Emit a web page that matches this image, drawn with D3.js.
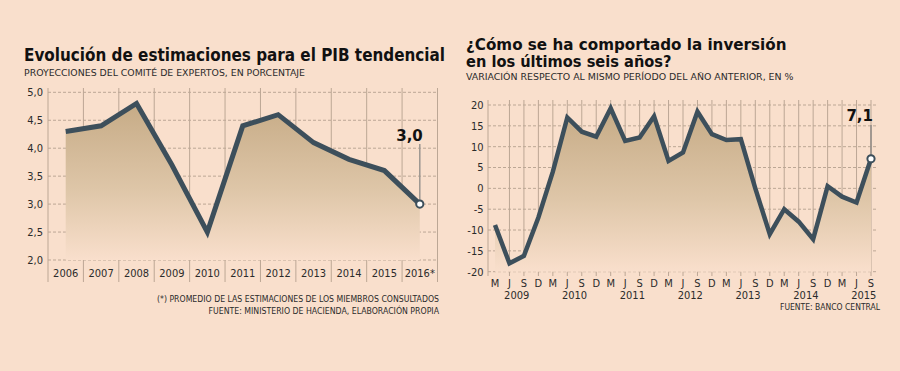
<!DOCTYPE html>
<html>
<head>
<meta charset="utf-8">
<script src="https://cdn.jsdelivr.net/npm/d3@7"></script>
<style>
  body { margin: 0; background: #f9dfcc; }
  svg { display: block; }
  text { font-family: "DejaVu Sans Condensed", "DejaVu Sans", sans-serif; fill: #2b2b2b; }
</style>
</head>
<body>
<script>
// left chart data
const pibYears = ['2006', '2007', '2008', '2009', '2010', '2011', '2012', '2013', '2014', '2015', '2016*'];
const pibValues = [4.3, 4.4, 4.8, 3.7, 2.5, 4.4, 4.6, 4.1, 3.8, 3.6, 3.0];
const pibTicks = [2, 2.5, 3, 3.5, 4, 4.5, 5];

// right chart data
const invMonths = ['M', 'J', 'S', 'D',
  'M', 'J', 'S', 'D', 'M', 'J', 'S', 'D', 'M', 'J', 'S', 'D',
  'M', 'J', 'S', 'D', 'M', 'J', 'S', 'D', 'M', 'J', 'S'];
const invYears = ['2009', '2010', '2011', '2012', '2013', '2014', '2015'];
const invValues = [-8.8, -18, -16.2, -7,
  4, 17, 13.6, 12.4,
  19.2, 11.4, 12.2, 17.3,
  6.6, 8.6, 18.4, 13,
  11.6, 11.8, 0, -11,
  -5, -8, -12.2, 0.5,
  -2, -3.4, 7.1];
const invTicks = [-20, -15, -10, -5, 0, 5, 10, 15, 20];

const width = 900;
const height = 371;
const bg = '#f9dfcc';
const lineColor = '#3d4f5b';
const gridColor = '#bca795';
const comma = d3.formatLocale({ decimal: ',', thousands: '.', grouping: [3], currency: ['', ''] });

const svg = d3.select('body').append('svg')
    .attr('width', width)
    .attr('height', height);

svg.append('rect')
    .attr('width', width)
    .attr('height', height)
    .attr('fill', bg);

const defs = svg.append('defs');
function makeGradient(id, y1, y2) {
  const g = defs.append('linearGradient')
      .attr('id', id)
      .attr('gradientUnits', 'userSpaceOnUse')
      .attr('x1', 0).attr('x2', 0)
      .attr('y1', y1).attr('y2', y2);
  g.append('stop').attr('offset', 0).attr('stop-color', '#c6ab86');
  g.append('stop').attr('offset', 0.55).attr('stop-color', '#dec6a8');
  g.append('stop').attr('offset', 1).attr('stop-color', bg);
}

// helper for squeezed text
function label(x, y, str, size, len, weight) {
  const t = svg.append('text')
      .attr('x', x)
      .attr('y', y)
      .style('font-size', size + 'px')
      .text(str);
  if (weight) t.style('font-weight', weight).style('font-family', '"DejaVu Sans", sans-serif').style('fill', '#111');
  if (len) t.attr('textLength', len).attr('lengthAdjust', 'spacingAndGlyphs');
  return t;
}

// ---------- left chart ----------
label(24, 60.5, 'Evolución de estimaciones para el PIB tendencial', 18.5, 421, 'bold');
label(24, 75.5, 'PROYECCIONES DEL COMITÉ DE EXPERTOS, EN PORCENTAJE', 9.5, 281);

const xL = d3.scaleBand()
    .domain(pibYears)
    .range([48, 437.5])
    .padding(0);

const yL = d3.scaleLinear()
    .domain([2, 5])
    .range([260, 92.3]);

makeGradient('gradL', yL(4.8), yL(2));

const gL = svg.append('g');

gL.selectAll('.hgrid')
  .data(pibTicks)
  .enter()
  .append('line')
    .attr('x1', 48)
    .attr('x2', 437.5)
    .attr('y1', d => yL(d))
    .attr('y2', d => yL(d))
    .attr('stroke', gridColor)
    .attr('stroke-dasharray', '3,2');

const edgesL = pibYears.map(d => xL(d)).concat([xL.range()[1]]);
gL.selectAll('.vgrid')
  .data(edgesL)
  .enter()
  .append('line')
    .attr('x1', d => d)
    .attr('x2', d => d)
    .attr('y1', 88)
    .attr('y2', 282)
    .attr('stroke', gridColor);

const cx = d => xL(d) + xL.bandwidth() / 2;

gL.append('path')
    .datum(pibValues)
    .attr('fill', 'url(#gradL)')
    .attr('d', d3.area()
      .x((d, i) => cx(pibYears[i]))
      .y0(yL(2))
      .y1(d => yL(d)));

gL.selectAll('.ylab')
  .data(pibTicks)
  .enter()
  .append('text')
    .attr('x', 43)
    .attr('y', d => yL(d))
    .attr('dy', '0.35em')
    .attr('text-anchor', 'end')
    .style('font-size', '11px')
    .text(d => comma.format('.1f')(d));

gL.selectAll('.xlab')
  .data(pibYears)
  .enter()
  .append('text')
    .attr('x', d => cx(d))
    .attr('y', 276.5)
    .attr('text-anchor', 'middle')
    .style('font-size', '11px')
    .text(d => d);

const lastL = pibValues.length - 1;
gL.append('line')
    .attr('x1', cx(pibYears[lastL]))
    .attr('x2', cx(pibYears[lastL]))
    .attr('y1', 144)
    .attr('y2', yL(pibValues[lastL]))
    .attr('stroke', '#9c9690')
    .attr('stroke-width', 1.5);

gL.append('path')
    .datum(pibValues)
    .attr('fill', 'none')
    .attr('stroke', lineColor)
    .attr('stroke-width', 5)
    .attr('stroke-linejoin', 'miter')
    .attr('d', d3.line()
      .x((d, i) => cx(pibYears[i]))
      .y(d => yL(d)));

gL.append('circle')
    .attr('cx', cx(pibYears[lastL]))
    .attr('cy', yL(pibValues[lastL]))
    .attr('r', 3.6)
    .attr('fill', '#fff')
    .attr('stroke', lineColor)
    .attr('stroke-width', 2);

gL.append('text')
    .attr('x', cx(pibYears[lastL]) + 3)
    .attr('y', 141)
    .attr('text-anchor', 'end')
    .style('font-family', '"DejaVu Sans", sans-serif')
    .style('font-weight', 'bold')
    .style('font-size', '15px')
    .style('fill', '#111')
    .text(comma.format('.1f')(pibValues[lastL]));

label(157, 302, '(*) PROMEDIO DE LAS ESTIMACIONES DE LOS MIEMBROS CONSULTADOS', 9.5, 282);
label(208.5, 313.5, 'FUENTE: MINISTERIO DE HACIENDA, ELABORACIÓN PROPIA', 9.5, 230.5);

// ---------- right chart ----------
label(466, 49.5, '¿Cómo se ha comportado la inversión', 16.5, 320.5, 'bold');
label(466, 66.5, 'en los últimos seis años?', 16.5, 205.5, 'bold');
label(466, 80, 'VARIACIÓN RESPECTO AL MISMO PERÍODO DEL AÑO ANTERIOR, EN %', 9.5, 327.5);

const idx = d3.range(invValues.length);
const xR = d3.scalePoint()
    .domain(idx)
    .range([495, 871]);

const yR = d3.scaleLinear()
    .domain([-20, 20])
    .range([271.7, 105]);

makeGradient('gradR', yR(19), yR(-20));

const gR = svg.append('g');

gR.selectAll('.hgrid')
  .data(invTicks)
  .enter()
  .append('line')
    .attr('x1', 488)
    .attr('x2', 878)
    .attr('y1', d => yR(d))
    .attr('y2', d => yR(d))
    .attr('stroke', gridColor)
    .attr('stroke-dasharray', '3,2');

gR.selectAll('.vgrid')
  .data([488].concat(idx.slice(1).map(i => xR(i))))
  .enter()
  .append('line')
    .attr('x1', d => d)
    .attr('x2', d => d)
    .attr('y1', 100)
    .attr('y2', 276)
    .attr('stroke', gridColor);

gR.append('path')
    .datum(invValues)
    .attr('fill', 'url(#gradR)')
    .attr('d', d3.area()
      .x((d, i) => xR(i))
      .y0(yR(-20))
      .y1(d => yR(d)));

gR.selectAll('.ylab')
  .data(invTicks)
  .enter()
  .append('text')
    .attr('x', 483.5)
    .attr('y', d => yR(d))
    .attr('dy', '0.35em')
    .attr('text-anchor', 'end')
    .style('font-size', '11px')
    .text(d => d);

gR.selectAll('.mlab')
  .data(invMonths)
  .enter()
  .append('text')
    .attr('x', (d, i) => xR(i))
    .attr('y', 286.5)
    .attr('text-anchor', 'middle')
    .style('font-size', '11px')
    .text(d => d);

// year label sits between the J and S of each year
gR.selectAll('.yrlab')
  .data(invYears)
  .enter()
  .append('text')
    .attr('x', (d, i) => {
      const j = i === 0 ? 1 : 4 * i + 1;
      return (xR(j) + xR(j + 1)) / 2;
    })
    .attr('y', 299)
    .attr('text-anchor', 'middle')
    .style('font-size', '11px')
    .text(d => d);

const lastR = invValues.length - 1;
gR.append('line')
    .attr('x1', xR(lastR))
    .attr('x2', xR(lastR))
    .attr('y1', 125)
    .attr('y2', yR(invValues[lastR]))
    .attr('stroke', '#8f8a86')
    .attr('stroke-width', 1.5);

gR.append('path')
    .datum(invValues)
    .attr('fill', 'none')
    .attr('stroke', lineColor)
    .attr('stroke-width', 4.5)
    .attr('stroke-linejoin', 'miter')
    .attr('d', d3.line()
      .x((d, i) => xR(i))
      .y(d => yR(d)));

gR.append('circle')
    .attr('cx', xR(lastR))
    .attr('cy', yR(invValues[lastR]))
    .attr('r', 3.6)
    .attr('fill', '#fff')
    .attr('stroke', lineColor)
    .attr('stroke-width', 2);

gR.append('text')
    .attr('x', xR(lastR) + 2)
    .attr('y', 120.5)
    .attr('text-anchor', 'end')
    .style('font-family', '"DejaVu Sans", sans-serif')
    .style('font-weight', 'bold')
    .style('font-size', '15px')
    .style('fill', '#111')
    .text(comma.format('.1f')(invValues[lastR]));

label(780, 310, 'FUENTE: BANCO CENTRAL', 9.5, 100);
</script>
</body>
</html>
